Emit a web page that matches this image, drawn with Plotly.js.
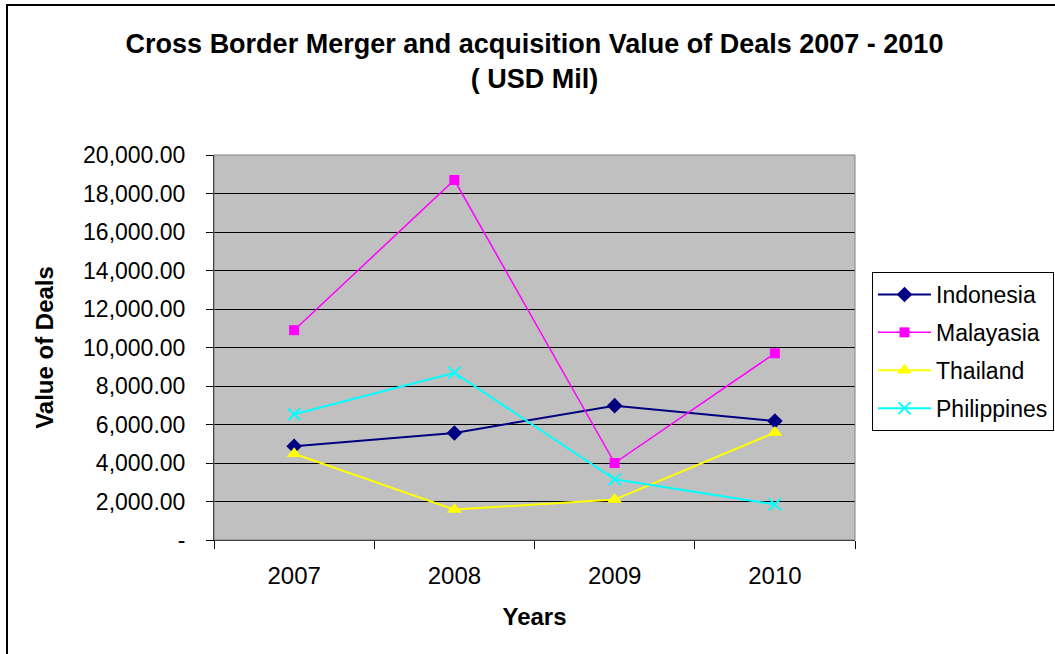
<!DOCTYPE html>
<html>
<head>
<meta charset="utf-8">
<script src="https://cdn.plot.ly/plotly-3.0.1.min.js"></script>
<style>html,body{margin:0;padding:0;background:#fff;}#chart{width:1055px;height:654px;}</style>
</head>
<body>
<div id="chart"></div>
<script>
// ---- data ----
var years = ['2007', '2008', '2009', '2010'];
var indonesia = [4870, 5560, 6980, 6180];
var malaysia = [10900, 18700, 4000, 9700];
var thailand = [4480, 1580, 2100, 5580];
var philippines = [6530, 8690, 3150, 1850];
var seriesNames = ['Indonesia', 'Malayasia', 'Thailand', 'Philippines'];
var yTickVals = [0, 2000, 4000, 6000, 8000, 10000, 12000, 14000, 16000, 18000, 20000];
var yTickText = ['-', '2,000.00', '4,000.00', '6,000.00', '8,000.00', '10,000.00', '12,000.00', '14,000.00', '16,000.00', '18,000.00', '20,000.00'];

var FONT = 'Liberation Sans, Arial, sans-serif';

function trace(name, ys, color, symbol, size, lw, group) {
  var m = {symbol: symbol, size: size, color: color};
  if (symbol === 'x-thin-open') m.line = {color: color, width: 2};
  return {
    x: years, y: ys, name: name, type: 'scatter', mode: 'lines+markers',
    line: {color: color, width: lw}, marker: m, legendgroup: group
  };
}

var data = [
  trace(seriesNames[0], indonesia, '#000080', 'diamond', 12, 2, 'a'),
  trace(seriesNames[1], malaysia, '#FF00FF', 'square', 10, 1.5, 'b'),
  trace(seriesNames[2], thailand, '#FFFF00', 'triangle-up', 13, 2, 'c'),
  trace(seriesNames[3], philippines, '#00FFFF', 'x-thin-open', 12, 2, 'd')
];

var L = 214, R = 855, T = 155, B = 540, W = 1055, H = 654;
function px(x) { return (x - L) / (R - L); }
function py(y) { return (B - y) / (B - T); }

var layout = {
  width: W, height: H,
  margin: {l: L, r: W - R, t: T, b: H - B, pad: 0, autoexpand: false},
  paper_bgcolor: '#ffffff',
  plot_bgcolor: '#C0C0C0',
  font: {family: FONT, color: '#000', size: 23},
  title: {
    text: '<b>Cross Border Merger and acquisition Value of Deals 2007 - 2010<br>( USD Mil)</b>',
    font: {family: FONT, size: 27, color: '#000'},
    x: 0.5, xref: 'paper', xanchor: 'center',
    y: 1 - 53 / H, yref: 'container', yanchor: 'top'
  },
  xaxis: {
    type: 'category',
    range: [-0.5, 3.5],
    tickson: 'boundaries',
    ticks: 'outside', ticklen: 8, tickcolor: '#000', tickwidth: 1,
    ticklabelstandoff: 14,
    showgrid: false, zeroline: false,
    showline: true, linecolor: '#000', linewidth: 1,
    tickfont: {family: FONT, size: 24, color: '#000'},
    title: {text: '<b>Years</b>', font: {family: FONT, size: 24, color: '#000'}, standoff: 20},
    automargin: false,
    fixedrange: true
  },
  yaxis: {
    range: [0, 20000],
    tickvals: yTickVals, ticktext: yTickText,
    ticks: 'outside', ticklen: 7, tickcolor: '#000', tickwidth: 1,
    ticklabelstandoff: 16,
    showgrid: true, gridcolor: '#000', gridwidth: 1,
    zeroline: false,
    showline: true, linecolor: '#000', linewidth: 1,
    tickfont: {family: FONT, size: 23, color: '#000'},
    title: {text: '<b>Value of Deals</b>', font: {family: FONT, size: 24, color: '#000'}, standoff: 22},
    automargin: false,
    fixedrange: true
  },
  legend: {
    x: px(872), xanchor: 'left', y: py(272), yanchor: 'top',
    bgcolor: '#ffffff', bordercolor: '#000', borderwidth: 1,
    font: {family: FONT, size: 23, color: '#000'},
    traceorder: 'grouped', tracegroupgap: 5,
    itemwidth: 53
  },
  showlegend: true,
  shapes: [
    {type: 'rect', xref: 'paper', yref: 'paper', x0: 0, x1: 1, y0: 0, y1: 1,
     line: {color: '#808080', width: 1}, fillcolor: 'rgba(0,0,0,0)', layer: 'above'},
    {type: 'rect', xref: 'paper', yref: 'paper', x0: px(7), x1: px(1070), y0: py(670), y1: py(5),
     line: {color: '#000', width: 2}, fillcolor: 'rgba(0,0,0,0)', layer: 'below'}
  ]
};

Plotly.newPlot('chart', data, layout, {displayModeBar: false, staticPlot: true});
</script>
</body>
</html>
